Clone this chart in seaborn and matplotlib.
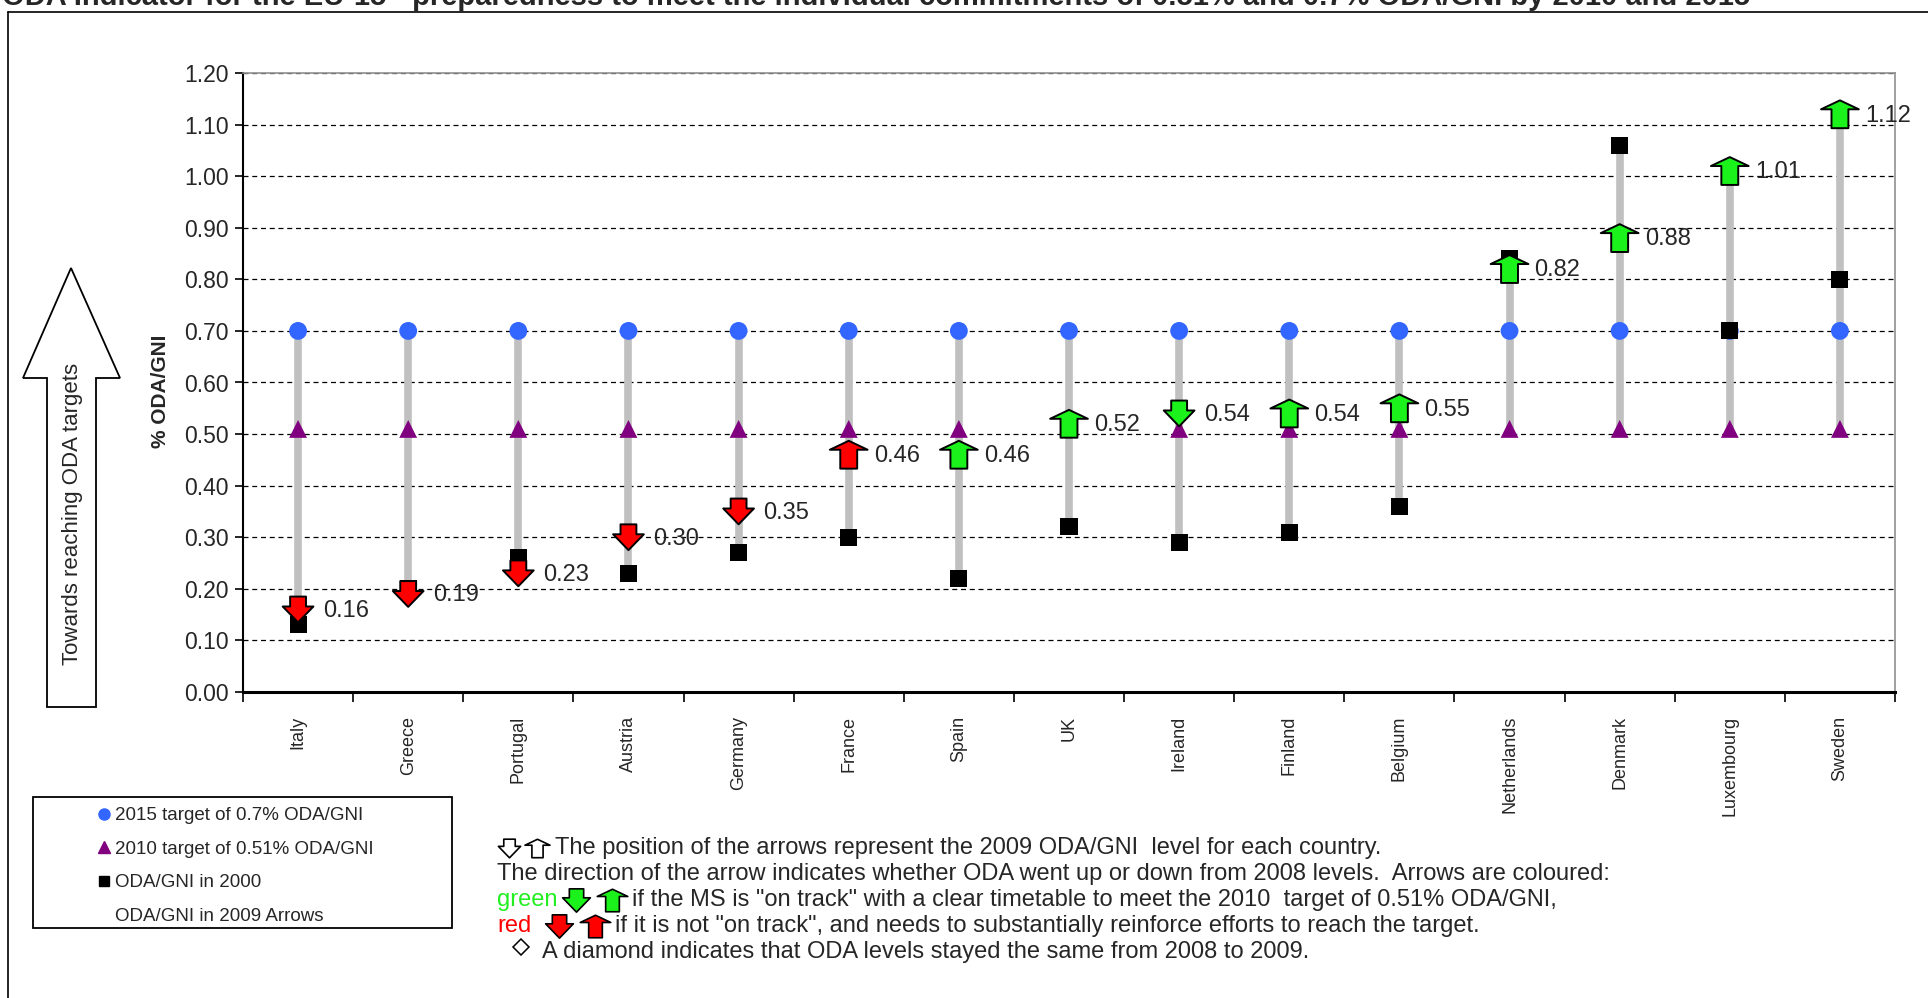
import pandas as pd
import seaborn as sns
import matplotlib.pyplot as plt
from matplotlib.path import Path
from matplotlib.patches import Rectangle, Polygon
from matplotlib.lines import Line2D
from matplotlib.ticker import FixedLocator, MultipleLocator, FormatStrFormatter

countries = ['Italy', 'Greece', 'Portugal', 'Austria', 'Germany', 'France', 'Spain', 'UK',
             'Ireland', 'Finland', 'Belgium', 'Netherlands', 'Denmark', 'Luxembourg', 'Sweden']
target_2015 = [0.70, 0.70, 0.70, 0.70, 0.70, 0.70, 0.70, 0.70, 0.70, 0.70, 0.70, 0.70, 0.70, 0.70, 0.70]
target_2010 = [0.51, 0.51, 0.51, 0.51, 0.51, 0.51, 0.51, 0.51, 0.51, 0.51, 0.51, 0.51, 0.51, 0.51, 0.51]
oda_2000 = [0.13, 0.20, 0.26, 0.23, 0.27, 0.30, 0.22, 0.32, 0.29, 0.31, 0.36, 0.84, 1.06, 0.70, 0.80]
oda_2009 = [0.16, 0.19, 0.23, 0.30, 0.35, 0.46, 0.46, 0.52, 0.54, 0.54, 0.55, 0.82, 0.88, 1.01, 1.12]
direction = ['down', 'down', 'down', 'down', 'down', 'up', 'up', 'up',
             'down', 'up', 'up', 'up', 'up', 'up', 'up']
on_track = ['red', 'red', 'red', 'red', 'red', 'red', 'green', 'green',
            'green', 'green', 'green', 'green', 'green', 'green', 'green']

TITLE = ('ODA Indicator for the EU-15 - preparedness to meet the individual commitments '
         'of 0.51% and 0.7% ODA/GNI by 2010 and 2015')

GREY = '#C0C0C0'
BLUE = '#3366FF'
PURPLE = '#800080'
GREEN = '#1BF21B'
RED = '#FF0000'

W, H = 1928, 998

# block arrows used as markers (pixel-like units, normalised by matplotlib)
UP = Path([(-8.5, -14), (8.5, -14), (8.5, 5), (19, 5), (0, 14),
           (-19, 5), (-8.5, 5), (-8.5, -14)], closed=True)
DOWN = Path([(-8, 13), (8, 13), (8, 3), (15.5, 3), (0, -13),
             (-15.5, 3), (-8, 3), (-8, 13)], closed=True)
ARROW_SIZE = {'up': 740, 'down': 490}


def fx(px):
    return px / W


def fy(py):
    return 1 - py / H


df = pd.DataFrame({
    'country': countries,
    't2015': target_2015,
    't2010': target_2010,
    'oda2000': oda_2000,
    'oda2009': oda_2009,
    'direction': direction,
    'colour': on_track,
})
df['low'] = df[['t2015', 't2010', 'oda2000', 'oda2009']].min(axis=1)
df['high'] = df[['t2015', 't2010', 'oda2000', 'oda2009']].max(axis=1)

sns.set_style('white')
plt.rcParams['font.family'] = ['Liberation Sans', 'DejaVu Sans']

fig = plt.figure(figsize=(W / 100, H / 100), dpi=100)
ax = fig.add_axes([fx(243), fy(692), fx(1895) - fx(243), fy(73) - fy(692)])

ax.vlines(df['country'], df['low'], df['high'], color=GREY, lw=5.5, zorder=2)
sns.scatterplot(data=df, x='country', y='t2015', marker='o', s=165, color=BLUE,
                edgecolor='none', zorder=3, ax=ax)
sns.scatterplot(data=df, x='country', y='t2010', marker='^', s=165, color=PURPLE,
                edgecolor='none', zorder=3, ax=ax)
sns.scatterplot(data=df, x='country', y='oda2000', marker='s', s=150, color='black',
                edgecolor='none', zorder=4, ax=ax)
for d, path in [('up', UP), ('down', DOWN)]:
    sub = df[df['direction'] == d]
    sns.scatterplot(data=sub, x='country', y='oda2009', hue='colour',
                    palette={'green': GREEN, 'red': RED}, marker=path,
                    s=ARROW_SIZE[d], edgecolor='black', linewidth=1.4, zorder=5,
                    legend=False, ax=ax)

for c, v in zip(countries, oda_2009):
    ax.annotate(f'{v:.2f}', xy=(c, v), xytext=(18, -1), textcoords='offset points',
                va='center', ha='left', fontsize=17, zorder=6, annotation_clip=False)

ax.set_xlim(-0.5, len(countries) - 0.5)
ax.set_ylim(0, 1.2)
ax.yaxis.set_major_locator(MultipleLocator(0.1))
ax.yaxis.set_major_formatter(FormatStrFormatter('%.2f'))
ax.tick_params(axis='y', direction='out', length=6, width=1.2, color='black',
               labelsize=16.5, pad=4, left=True)
ax.set_xticks(range(len(countries)))
ax.set_xticklabels(countries, rotation=90, fontsize=13, va='top')
ax.tick_params(axis='x', which='major', length=0, pad=17)
ax.xaxis.set_minor_locator(FixedLocator([i - 0.5 for i in range(len(countries) + 1)]))
ax.tick_params(axis='x', which='minor', direction='out', length=7, width=1.2,
               color='black', bottom=True)
ax.yaxis.grid(True, color='black', lw=0.9, linestyle=(0, (4, 3)))
ax.xaxis.grid(False)
ax.set_axisbelow(True)

ax.spines['left'].set(color='black', lw=1.5)
ax.spines['bottom'].set(color='black', lw=2.2)
ax.spines['top'].set(color='#909090', lw=1.2)
ax.spines['right'].set(color='#909090', lw=1.2)

ax.set_xlabel('')
ax.set_ylabel('% ODA/GNI', fontsize=15, fontweight='bold')
ax.yaxis.set_label_coords((170 - 243) / (1895 - 243), (692 - 391) / (692 - 73))

# title, partly cut by the top edge
fig.text(fx(2), fy(5), TITLE, fontsize=21, fontweight='bold', va='baseline', ha='left')

# outer chart frame
fig.add_artist(Line2D([fx(8), 1.0], [fy(12), fy(12)], color='black', lw=1.2))
fig.add_artist(Line2D([fx(8), fx(8)], [fy(12), 0.0], color='black', lw=1.2))

# big arrow on the left
big = [(71, 268), (120, 378), (96, 378), (96, 707), (47, 707), (47, 378), (23, 378)]
fig.add_artist(Polygon([(fx(x), fy(y)) for x, y in big], closed=True,
                       facecolor='white', edgecolor='black', lw=1.3))
fig.text(fx(73), fy(514), 'Towards reaching ODA targets', rotation=90, fontsize=16,
         ha='center', va='center')

# legend
fig.add_artist(Rectangle((fx(33), fy(928)), fx(452) - fx(33), fy(797) - fy(928),
                         facecolor='white', edgecolor='black', lw=1.3))
handles = [
    Line2D([], [], marker='o', ls='', color=BLUE, markersize=8),
    Line2D([], [], marker='^', ls='', color=PURPLE, markersize=8),
    Line2D([], [], marker='s', ls='', color='black', markersize=7),
    Line2D([], [], marker='', ls=''),
]
labels = ['2015 target of 0.7% ODA/GNI', '2010 target of 0.51% ODA/GNI',
          'ODA/GNI in 2000', 'ODA/GNI in 2009 Arrows']
fig.legend(handles, labels, loc='upper left', bbox_to_anchor=(fx(96), fy(807)),
           frameon=False, fontsize=13.5, handlelength=0.8, handletextpad=0.2,
           labelspacing=0.88, borderpad=0, borderaxespad=0)

# explanatory notes
note_font = dict(fontsize=17, va='center', ha='left')
renderer = fig.canvas.get_renderer()


def icon(path, x, y, face, size):
    fig.add_artist(Line2D([fx(x)], [fy(y)], marker=path, ls='', markersize=size,
                          markerfacecolor=face, markeredgecolor='black', markeredgewidth=1.2))


def note(x, y, s, **kw):
    t = fig.text(fx(x), fy(y), s, **note_font, **kw)
    return t.get_window_extent(renderer).x1


x0 = 497
icon(DOWN, x0 + 12, 848, 'white', 16)
icon(UP, x0 + 40, 848, 'white', 18)
note(x0 + 58, 848, 'The position of the arrows represent the 2009 ODA/GNI  level for each country.')
note(x0, 874, 'The direction of the arrow indicates whether ODA went up or down from '
     '2008 levels.  Arrows are coloured:')
end = note(x0, 900, 'green', color='#22EE22')
icon(DOWN, end + 18, 900, GREEN, 20)
icon(UP, end + 54, 900, GREEN, 22)
note(end + 74, 900, 'if the MS is "on track" with a clear timetable to meet the 2010  '
     'target of 0.51% ODA/GNI,')
end = note(x0, 926, 'red', color=RED)
icon(DOWN, end + 28, 926, RED, 20)
icon(UP, end + 64, 926, RED, 22)
note(end + 84, 926, 'if it is not "on track", and needs to substantially reinforce efforts '
     'to reach the target.')
fig.add_artist(Line2D([fx(x0 + 24)], [fy(947)], marker='D', ls='', markersize=8,
                      markerfacecolor='white', markeredgecolor='black', markeredgewidth=1.1))
note(x0 + 45, 952, 'A diamond indicates that ODA levels stayed the same from 2008 to 2009.')

fig.savefig('out.png', dpi=100)
